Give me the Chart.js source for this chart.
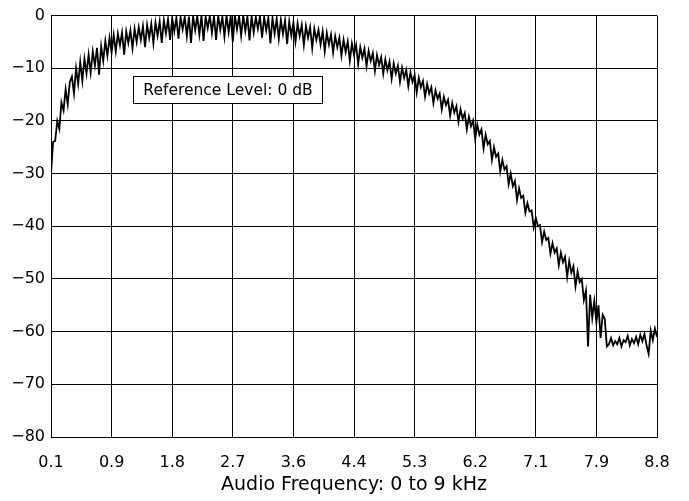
<!DOCTYPE html>
<html>
<head>
<meta charset="utf-8">
<script src="https://cdn.jsdelivr.net/npm/chart.js@4/dist/chart.umd.min.js"></script>
<style>
  body { margin: 0; background: #fff; }
  canvas { display: block; }
</style>
</head>
<body>
<canvas id="spectrum" width="689" height="501"></canvas>
<script>
// frequency axis runs 0.1 .. 8.8 kHz, ticks every 0.87 kHz
const freqMin = 0.1;
const freqMax = 8.8;
const xTickLabels = ['0.1', '0.9', '1.8', '2.7', '3.6', '4.4', '5.3', '6.2', '7.1', '7.9', '8.8'];
const yTicks = [0, -10, -20, -30, -40, -50, -60, -70, -80];

// level in dB, one value every 0.03 kHz from freqMin
const levels = [
  -30, -24, -23.8, -20, -21.5, -16.5, -18, -14, -16.8, -12.6,
  -11.6, -14.8, -10, -13, -8.8, -12.4, -8.2, -11, -7.4, -10.8,
  -6.8, -9.5, -6.1, -11.2, -5.8, -8.6, -4.8, -7.6, -4.2, -7,
  -3.7, -6.8, -3.4, -5.6, -3.2, -7.4, -3, -5.2, -2.8, -6.2,
  -2.5, -5, -2.2, -4.6, -2, -6, -1.8, -4.2, -1.6, -5.3,
  -1.3, -3.8, -1.1, -5.2, -0.9, -3.4, -0.7, -4.6, -0.5, -3,
  -0.4, -4.4, -0.3, -2.6, -0.2, -3.9, -0.2, -5.2, -0.1, -2.8,
  -0.1, -3.6, 0, -4.8, -0.2, -2.4, 0, -3.3, -0.1, -4.6,
  0, -2.7, -0.2, -4, 0, -3.1, -0.1, -5, 0, -2.6,
  -0.1, -3.8, 0, -2.9, -0.2, -4.7, -0.1, -3.2, -0.3, -2.5,
  -0.2, -4.2, -0.3, -2.8, -0.4, -5.3, -0.4, -3.4, -0.6, -4.4,
  -0.8, -3.5, -0.9, -5.4, -1.1, -3.8, -1.3, -4.9, -1.5, -3.9,
  -1.8, -5.6, -2, -4.2, -2.2, -6.2, -2.5, -4.6, -2.7, -5.5,
  -3, -6.8, -3.3, -5.5, -3.6, -7, -3.9, -6, -4.2, -7.6,
  -4.6, -6.9, -4.9, -8.6, -5.3, -7.4, -5.6, -9.2, -6, -8,
  -6.3, -9.6, -6.7, -8.6, -7.1, -10.5, -7.5, -9.4, -7.9, -11,
  -8.3, -10.4, -8.7, -12, -9.1, -11, -9.5, -12.6, -9.9, -11.8,
  -10.3, -13.4, -10.8, -12.6, -11.3, -14.6, -11.8, -13.6, -12.4, -15.4,
  -13, -14.8, -13.6, -16.6, -14.2, -15.8, -14.8, -17.8, -15.4, -17,
  -16, -19, -16.6, -18.4, -17.2, -20.2, -17.8, -19.6, -18.5, -21.6,
  -19.2, -21, -19.9, -23.4, -20.7, -22.6, -21.6, -25.2, -22.6, -24.4,
  -23.8, -27.4, -25, -26.8, -26.2, -29.6, -27.4, -29.2, -28.6, -32,
  -30, -32.4, -31.4, -35, -32.8, -34.6, -34.2, -37.4, -35.6, -37.2,
  -37, -40.2, -38.4, -40, -39.8, -43, -41, -42.6, -42.2, -45.2,
  -43.2, -45, -44.2, -47.4, -45, -46.8, -45.8, -49.6, -46.6, -48.8,
  -47.6, -51.4, -48.6, -50.6, -50, -54, -52.2, -62.8, -53, -57.4,
  -54.2, -58.2, -55, -61.2, -56.8, -57.6, -62.8, -62.4, -61.2, -62.6,
  -61.8, -62.4, -61.2, -62.8, -61.6, -62, -60.8, -62.6, -61.4, -62.2,
  -61, -62.4, -60.6, -61.8, -60.4, -62.6, -64.2, -59.8, -61.6, -59.4,
  -61
];

const fontFamily = '"DejaVu Sans", Verdana, sans-serif';
const step = (freqMax - freqMin) / (levels.length - 1);
const points = levels.map((v, i) => ({ x: freqMin + i * step, y: v }));
const tickStep = (freqMax - freqMin) / (xTickLabels.length - 1);

const refBox = {
  id: 'refBox',
  afterDraw(chart) {
    const ctx = chart.ctx;
    ctx.save();
    ctx.fillStyle = '#fff';
    ctx.strokeStyle = '#000';
    ctx.lineWidth = 1;
    ctx.fillRect(133.5, 76.5, 189, 27);
    ctx.strokeRect(133.5, 76.5, 189, 27);
    ctx.fillStyle = '#000';
    ctx.font = '15.5px ' + fontFamily;
    ctx.textAlign = 'center';
    ctx.textBaseline = 'middle';
    ctx.fillText('Reference Level: 0 dB', 228, 90.5);
    ctx.restore();
  }
};

new Chart(document.getElementById('spectrum'), {
  type: 'line',
  data: {
    datasets: [{
      data: points,
      borderColor: '#000',
      borderWidth: 1.8,
      pointRadius: 0,
      tension: 0,
      fill: false
    }]
  },
  options: {
    responsive: false,
    animation: false,
    devicePixelRatio: 1,
    layout: { padding: { left: 0, top: 11, right: 32, bottom: 0 } },
    plugins: { legend: { display: false }, tooltip: { enabled: false } },
    scales: {
      x: {
        type: 'linear',
        min: freqMin,
        max: freqMax,
        afterBuildTicks: scale => {
          scale.ticks = xTickLabels.map((t, i) => ({ value: freqMin + i * tickStep }));
        },
        afterFit: scale => { scale.height = 64; },
        ticks: {
          autoSkip: false,
          maxRotation: 0,
          padding: 16,
          color: '#000',
          font: { family: fontFamily, size: 16 },
          callback: (v, i) => xTickLabels[i]
        },
        grid: { color: '#000', lineWidth: 1, drawTicks: false },
        border: { color: '#000' },
        title: {
          display: true,
          text: 'Audio Frequency: 0 to 9 kHz',
          color: '#000',
          font: { family: fontFamily, size: 19 },
          padding: { top: 0, bottom: 5 }
        }
      },
      y: {
        min: -80,
        max: 0,
        afterBuildTicks: scale => {
          scale.ticks = yTicks.map(v => ({ value: v }));
        },
        afterFit: scale => { scale.width = 51; },
        ticks: {
          padding: 6,
          color: '#000',
          font: { family: fontFamily, size: 16 },
          callback: v => v < 0 ? '\u2212' + Math.abs(v) : String(v)
        },
        grid: { color: '#000', lineWidth: 1, drawTicks: false },
        border: { color: '#000' }
      }
    }
  },
  plugins: [refBox]
});
</script>
</body>
</html>
